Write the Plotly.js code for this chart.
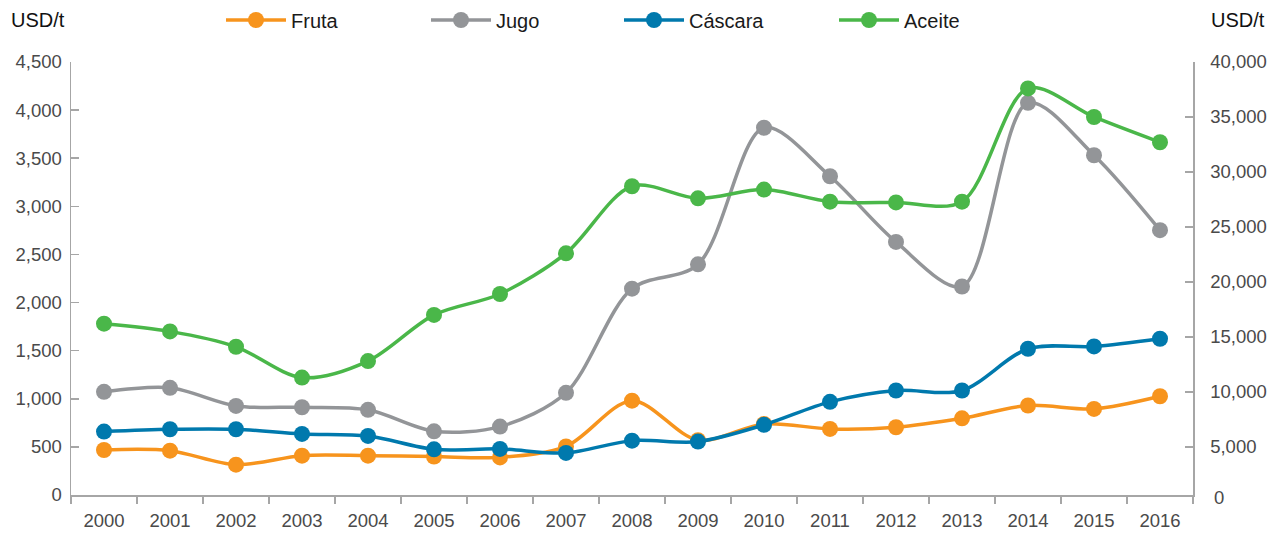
<!DOCTYPE html>
<html>
<head>
<meta charset="utf-8">
<script src="https://cdn.plot.ly/plotly-3.0.1.min.js"></script>
<style>html,body{margin:0;padding:0;background:#fff;}#chart{width:1286px;height:533px;}</style>
</head>
<body>
<div id="chart"></div>
<script>
const years = ['2000','2001','2002','2003','2004','2005','2006','2007','2008','2009','2010','2011','2012','2013','2014','2015','2016'];
const fruta   = [468, 461, 315, 409, 409, 400, 391, 505, 980, 570, 739, 687, 704, 797, 930, 895, 1026];
const jugo    = [1072, 1114, 926, 912, 885, 662, 711, 1062, 2144, 2397, 3817, 3313, 2630, 2167, 4076, 3531, 2752];
const cascara = [659, 683, 683, 635, 614, 475, 479, 437, 565, 555, 729, 968, 1086, 1086, 1520, 1544, 1624];
const aceite  = [16200, 15500, 14100, 11300, 12800, 17000, 18900, 22600, 28700, 27600, 28400, 27300, 27230, 27300, 37600, 35000, 32700];
const leftTicks = [0, 500, 1000, 1500, 2000, 2500, 3000, 3500, 4000, 4500];
const rightTicks = [5000, 10000, 15000, 20000, 25000, 30000, 35000, 40000];
const seriesNames = ['Fruta', 'Jugo', 'Cáscara', 'Aceite'];

const fmt = v => v.toLocaleString('en-US');
function tr(name, y, color, axis, leg) {
  return {
    x: years, y: y, name: name, type: 'scatter', mode: 'lines+markers',
    yaxis: axis, legend: leg,
    line: {color: color, width: 3.5, shape: 'spline', smoothing: 0.9},
    marker: {color: color, size: 16},
    hoverinfo: 'x+y'
  };
}
const data = [
  tr(seriesNames[0], fruta, '#F7941D', 'y', 'legend'),
  tr(seriesNames[1], jugo, '#939598', 'y', 'legend2'),
  tr(seriesNames[2], cascara, '#0079AD', 'y', 'legend3'),
  tr(seriesNames[3], aceite, '#4AB749', 'y2', 'legend4')
];
const tickFont = {family: 'Liberation Sans, Arial, sans-serif', size: 18.5, color: '#4a4a4a'};
function leg(px) {
  return {
    orientation: 'h', xref: 'container', yref: 'container',
    x: px / 1286, y: 1 - 20/533, xanchor: 'left', yanchor: 'middle',
    font: {family: 'Liberation Sans, Arial, sans-serif', size: 20, color: '#1a1a1a'},
    itemwidth: 60, bgcolor: 'rgba(0,0,0,0)'
  };
}
const layout = {
  width: 1286, height: 533,
  margin: {l: 71, r: 93, t: 62, b: 38},
  paper_bgcolor: '#fff', plot_bgcolor: '#fff',
  showlegend: true,
  legend: leg(221), legend2: leg(426), legend3: leg(619), legend4: leg(834),
  xaxis: {
    type: 'category', range: [-0.5, 16.5], tickson: 'boundaries',
    ticks: 'outside', ticklen: 7, tickcolor: '#a6a6a6', tickwidth: 1.5,
    showline: true, linecolor: '#a6a6a6', linewidth: 1.5,
    showgrid: false, zeroline: false, tickfont: tickFont, ticklabelstandoff: 8
  },
  yaxis: {
    range: [0, 4500], tickvals: leftTicks, ticktext: leftTicks.map(fmt),
    ticks: 'inside', ticklen: 8, tickcolor: '#a6a6a6', tickwidth: 1.5,
    showline: true, linecolor: '#a6a6a6', linewidth: 1.5,
    showgrid: false, zeroline: false, tickfont: tickFont, ticklabelstandoff: 4
  },
  yaxis2: {
    overlaying: 'y', side: 'right', range: [620, 40000],
    tickvals: rightTicks, ticktext: rightTicks.map(fmt),
    ticks: 'inside', ticklen: 8, tickcolor: '#a6a6a6', tickwidth: 1.5,
    showline: true, linecolor: '#a6a6a6', linewidth: 1.5,
    showgrid: false, zeroline: false, tickfont: tickFont, ticklabelstandoff: 12
  },
  annotations: [
    {text: 'USD/t', xref: 'paper', yref: 'paper', x: -0.055, y: (495 - 20) / 433, xanchor: 'left', yanchor: 'middle', showarrow: false,
     font: {family: 'Liberation Sans, Arial, sans-serif', size: 20, color: '#111'}},
    {text: 'USD/t', xref: 'paper', yref: 'paper', x: 1.0145, y: (495 - 20) / 433, xanchor: 'left', yanchor: 'middle', showarrow: false,
     font: {family: 'Liberation Sans, Arial, sans-serif', size: 20, color: '#111'}},
    {text: '0', xref: 'paper', yref: 'paper', x: 1.0165, y: (495 - 497) / 433, xanchor: 'left', yanchor: 'middle', showarrow: false,
     font: tickFont}
  ]
};
Plotly.newPlot('chart', data, layout, {displayModeBar: false, staticPlot: true});
</script>
</body>
</html>
